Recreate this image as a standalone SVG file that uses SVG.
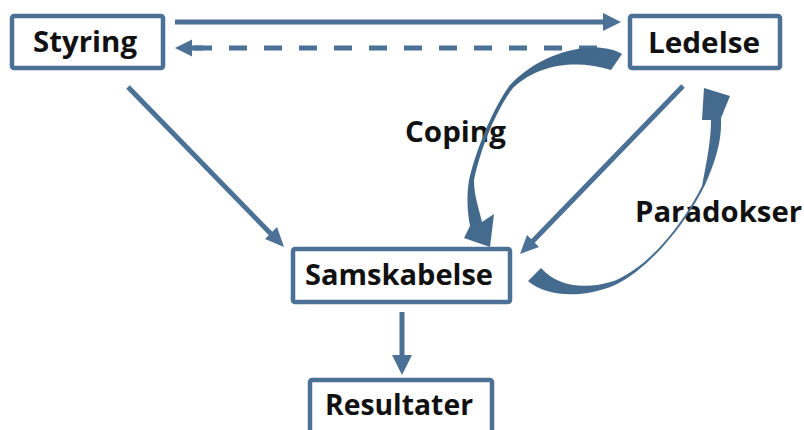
<svg xmlns="http://www.w3.org/2000/svg" width="804" height="430" viewBox="0 0 804 430">
  <defs>
    <style>
      .box { fill: #ffffff; stroke: #4b7196; stroke-width: 4.5; }
      .lbl { font-family: "Open Sans", "Liberation Sans", sans-serif; font-weight: bold; font-size: 28px; fill: #111111; }
      .line { stroke: #4b7196; stroke-width: 5; fill: none; }
      .dash { stroke: #4b7196; stroke-width: 5; fill: none; stroke-dasharray: 18 17; }
      .head { fill: #4b7196; }
      .band { fill: url(#bandFill); }
    </style>
    <linearGradient id="bandFill" x1="0" y1="0" x2="1" y2="1">
      <stop offset="0" stop-color="#3d6283"/>
      <stop offset="1" stop-color="#4a7297"/>
    </linearGradient>
  </defs>

  <!-- cycle labels, drawn beneath the curved arrows -->
  <g id="labels">
    <text class="lbl" x="405" y="142" textLength="101" lengthAdjust="spacingAndGlyphs">Coping</text>
    <text class="lbl" x="635" y="222" textLength="167" lengthAdjust="spacingAndGlyphs">Paradokser</text>
  </g>

  <!-- straight connectors -->
  <g id="connectors">
    <!-- Styring -> Ledelse -->
    <line class="line" x1="175" y1="22" x2="606" y2="22"/>
    <polygon class="head" points="621,22 603,13 603,31"/>
    <!-- Ledelse -> Styring (dashed) -->
    <line class="dash" x1="597" y1="48" x2="190" y2="48"/>
    <line class="line" x1="190" y1="48" x2="203" y2="48"/>
    <polygon class="head" points="175,48 192,39.5 192,56.5"/>
    <!-- Styring -> Samskabelse -->
    <line class="line" x1="128" y1="87" x2="273" y2="236"/>
    <polygon class="head" points="284,247 265,239 277,227"/>
    <!-- Ledelse -> Samskabelse -->
    <line class="line" x1="683" y1="86" x2="531" y2="243"/>
    <polygon class="head" points="520,254 527,235 539,247"/>
    <!-- Samskabelse -> Resultater -->
    <line class="line" x1="402" y1="312" x2="402" y2="358"/>
    <polygon class="head" points="402,375 392,355 412,355"/>
  </g>

  <!-- curved cycle arrows -->
  <g id="cycles">
    <!-- Coping: Ledelse -> Samskabelse -->
    <path class="band" d="M622,54 C600,40 545,48 510,85 C500,98 480,135 469,180 C466,200 468,215 470,226 L464,238 L490,247 L494,214 L482,222 C478,205 474,195 474,180 C482,142 500,104 513,88 C540,62 580,60 611,70 Z"/>
    <!-- Paradokser: Samskabelse -> Ledelse -->
    <path class="band" d="M528,281 C548,298 585,298 615,285 C650,268 685,225 705,185 C716,160 722,140 721,118 L730,96 L704,88 L702,120 L711,120 C711,140 707,160 702,186 C683,224 650,266 614,281 C585,290 558,287 541,268 Z"/>
  </g>

  <!-- nodes -->
  <g id="node-styring">
    <rect class="box" x="12" y="16" width="151" height="52" rx="2"/>
    <text class="lbl" x="33" y="52" textLength="104" lengthAdjust="spacingAndGlyphs">Styring</text>
  </g>
  <g id="node-ledelse">
    <rect class="box" x="630" y="16" width="150" height="52" rx="2"/>
    <text class="lbl" x="648" y="53" textLength="112" lengthAdjust="spacingAndGlyphs">Ledelse</text>
  </g>
  <g id="node-samskabelse">
    <rect class="box" x="293" y="249" width="217" height="53" rx="2"/>
    <text class="lbl" x="305" y="285" textLength="188" lengthAdjust="spacingAndGlyphs">Samskabelse</text>
  </g>
  <g id="node-resultater">
    <rect class="box" x="310" y="380" width="182" height="60" rx="2"/>
    <text class="lbl" x="325" y="415" textLength="148" lengthAdjust="spacingAndGlyphs">Resultater</text>
  </g>
</svg>
